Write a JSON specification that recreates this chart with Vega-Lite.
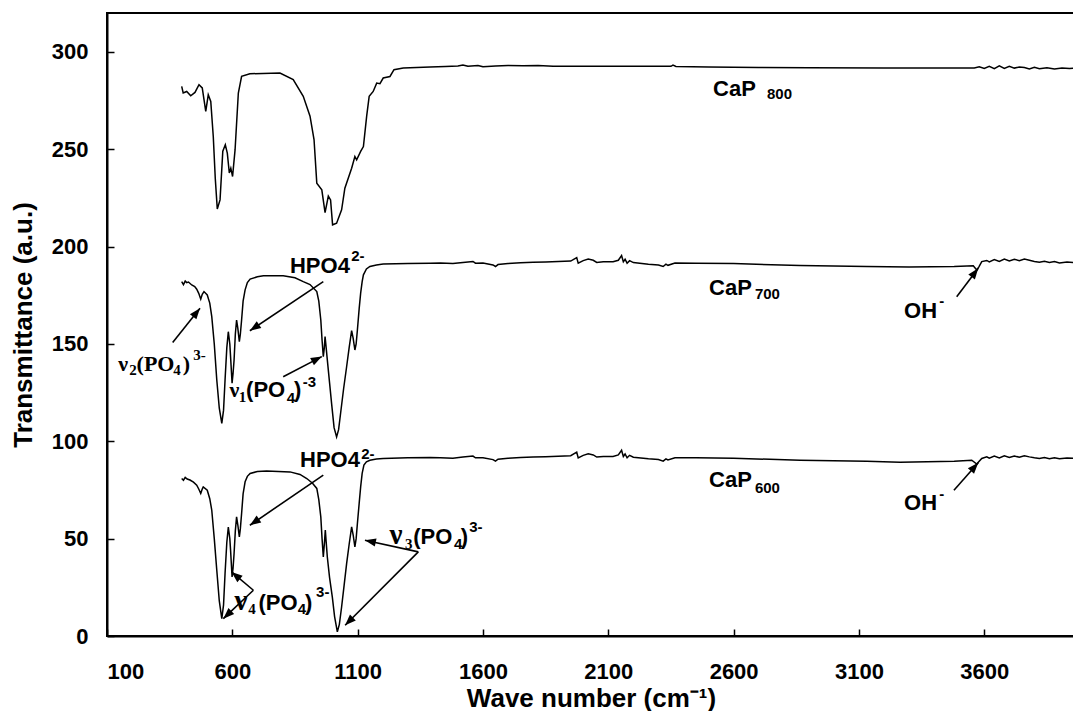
{
  "$schema": "https://vega.github.io/schema/vega-lite/v6.json",
  "width": 968,
  "height": 623,
  "autosize": {"type": "none"},
  "padding": {"left": 107, "top": 13, "right": 0, "bottom": 75},
  "background": "white",
  "config": {
    "view": {"stroke": "black", "strokeWidth": 2},
    "axis": {
      "grid": false,
      "domainColor": "black",
      "domainWidth": 2,
      "tickColor": "black",
      "tickWidth": 1.5,
      "tickSize": -7,
      "labelFont": "Liberation Sans",
      "labelFontWeight": "bold",
      "labelFontSize": 22,
      "labelColor": "black",
      "titleFont": "Liberation Sans",
      "titleFontWeight": "bold",
      "titleFontSize": 26,
      "titleColor": "black"
    }
  },
  "datasets": {
    "curves": [
      {"s":"CaP800","x":398,"y":282.3},{"s":"CaP800","x":404,"y":278.9},{"s":"CaP800","x":418,"y":279.7},{"s":"CaP800","x":434,"y":277.5},{"s":"CaP800","x":451,"y":279.2},{"s":"CaP800","x":467,"y":283.2},{"s":"CaP800","x":480,"y":281.5},{"s":"CaP800","x":494,"y":269.5},{"s":"CaP800","x":504,"y":278},{"s":"CaP800","x":514,"y":274.6},{"s":"CaP800","x":524,"y":256.6},{"s":"CaP800","x":532,"y":235},{"s":"CaP800","x":540,"y":219.3},{"s":"CaP800","x":551,"y":224},{"s":"CaP800","x":562,"y":249},{"s":"CaP800","x":572,"y":252.3},{"s":"CaP800","x":580,"y":248},{"s":"CaP800","x":588,"y":237.8},{"s":"CaP800","x":594,"y":240.3},{"s":"CaP800","x":601,"y":236},{"s":"CaP800","x":611,"y":249.8},{"s":"CaP800","x":624,"y":278.9},{"s":"CaP800","x":637,"y":287.5},{"s":"CaP800","x":670,"y":288.8},{"s":"CaP800","x":790,"y":289.2},{"s":"CaP800","x":843,"y":285.8},{"s":"CaP800","x":883,"y":277.2},{"s":"CaP800","x":910,"y":267},{"s":"CaP800","x":926,"y":255},{"s":"CaP800","x":937,"y":232.6},{"s":"CaP800","x":957,"y":229.2},{"s":"CaP800","x":970,"y":217.5},{"s":"CaP800","x":983,"y":226},{"s":"CaP800","x":992,"y":224},{"s":"CaP800","x":1000,"y":211.2},{"s":"CaP800","x":1016,"y":212},{"s":"CaP800","x":1036,"y":218.9},{"s":"CaP800","x":1049,"y":230},{"s":"CaP800","x":1076,"y":240.3},{"s":"CaP800","x":1089,"y":246.3},{"s":"CaP800","x":1096,"y":244.6},{"s":"CaP800","x":1112,"y":248.9},{"s":"CaP800","x":1123,"y":251.4},{"s":"CaP800","x":1136,"y":267},{"s":"CaP800","x":1146,"y":277.2},{"s":"CaP800","x":1162,"y":279.7},{"s":"CaP800","x":1176,"y":284},{"s":"CaP800","x":1189,"y":283.7},{"s":"CaP800","x":1202,"y":286.6},{"s":"CaP800","x":1229,"y":287.4},{"s":"CaP800","x":1245,"y":290.9},{"s":"CaP800","x":1282,"y":291.8},{"s":"CaP800","x":1389,"y":292.3},{"s":"CaP800","x":1450,"y":292.5},{"s":"CaP800","x":1500,"y":292.8},{"s":"CaP800","x":1520,"y":293.3},{"s":"CaP800","x":1540,"y":292.6},{"s":"CaP800","x":1580,"y":293.0},{"s":"CaP800","x":1600,"y":292.4},{"s":"CaP800","x":1650,"y":292.8},{"s":"CaP800","x":1700,"y":293.0},{"s":"CaP800","x":1760,"y":292.9},{"s":"CaP800","x":1820,"y":293.0},{"s":"CaP800","x":1880,"y":292.7},{"s":"CaP800","x":2000,"y":292.6},{"s":"CaP800","x":2200,"y":292.6},{"s":"CaP800","x":2350,"y":292.6},{"s":"CaP800","x":2358,"y":293.2},{"s":"CaP800","x":2370,"y":292.5},{"s":"CaP800","x":2500,"y":292.2},{"s":"CaP800","x":2700,"y":292.0},{"s":"CaP800","x":2900,"y":291.9},{"s":"CaP800","x":3200,"y":291.8},{"s":"CaP800","x":3500,"y":291.7},{"s":"CaP800","x":3560,"y":291.8},{"s":"CaP800","x":3580,"y":292.4},{"s":"CaP800","x":3600,"y":291.5},{"s":"CaP800","x":3620,"y":292.6},{"s":"CaP800","x":3640,"y":291.4},{"s":"CaP800","x":3660,"y":292.8},{"s":"CaP800","x":3680,"y":291.5},{"s":"CaP800","x":3700,"y":292.6},{"s":"CaP800","x":3720,"y":291.7},{"s":"CaP800","x":3740,"y":292.3},{"s":"CaP800","x":3760,"y":292.0},{"s":"CaP800","x":3780,"y":291.3},{"s":"CaP800","x":3800,"y":292.1},{"s":"CaP800","x":3820,"y":291.4},{"s":"CaP800","x":3850,"y":291.9},{"s":"CaP800","x":3880,"y":291.3},{"s":"CaP800","x":3910,"y":291.8},{"s":"CaP800","x":3940,"y":291.5},{"s":"CaP800","x":3962,"y":291.6},

      {"s":"CaP700","x":398,"y":182},{"s":"CaP700","x":405,"y":180.5},{"s":"CaP700","x":412,"y":182.3},{"s":"CaP700","x":418,"y":181.5},{"s":"CaP700","x":425,"y":181.8},{"s":"CaP700","x":438,"y":180.3},{"s":"CaP700","x":450,"y":179.5},{"s":"CaP700","x":458,"y":178.1},{"s":"CaP700","x":466,"y":176},{"s":"CaP700","x":474,"y":173},{"s":"CaP700","x":480,"y":175.5},{"s":"CaP700","x":487,"y":176.9},{"s":"CaP700","x":500,"y":175.2},{"s":"CaP700","x":510,"y":171},{"s":"CaP700","x":518,"y":164},{"s":"CaP700","x":528,"y":150},{"s":"CaP700","x":538,"y":131.5},{"s":"CaP700","x":548,"y":117},{"s":"CaP700","x":558,"y":109.2},{"s":"CaP700","x":565,"y":116},{"s":"CaP700","x":571,"y":131.5},{"s":"CaP700","x":578,"y":148},{"s":"CaP700","x":584,"y":156.3},{"s":"CaP700","x":590,"y":150},{"s":"CaP700","x":593,"y":143.5},{"s":"CaP700","x":599,"y":129.8},{"s":"CaP700","x":603,"y":135},{"s":"CaP700","x":607,"y":141.8},{"s":"CaP700","x":612,"y":155},{"s":"CaP700","x":617,"y":162.3},{"s":"CaP700","x":622,"y":158},{"s":"CaP700","x":628,"y":151.2},{"s":"CaP700","x":632,"y":155},{"s":"CaP700","x":637,"y":162.3},{"s":"CaP700","x":643,"y":172},{"s":"CaP700","x":651,"y":177.8},{"s":"CaP700","x":660,"y":181.5},{"s":"CaP700","x":671,"y":183.3},{"s":"CaP700","x":700,"y":184.5},{"s":"CaP700","x":724,"y":185},{"s":"CaP700","x":803,"y":185},{"s":"CaP700","x":850,"y":184},{"s":"CaP700","x":883,"y":182},{"s":"CaP700","x":910,"y":180.5},{"s":"CaP700","x":937,"y":176.9},{"s":"CaP700","x":945,"y":172},{"s":"CaP700","x":953,"y":162.3},{"s":"CaP700","x":958,"y":152},{"s":"CaP700","x":963,"y":143.5},{"s":"CaP700","x":967,"y":148},{"s":"CaP700","x":970,"y":153.8},{"s":"CaP700","x":973,"y":150},{"s":"CaP700","x":979,"y":141.8},{"s":"CaP700","x":988,"y":130},{"s":"CaP700","x":996,"y":119.5},{"s":"CaP700","x":1006,"y":107},{"s":"CaP700","x":1016,"y":102.3},{"s":"CaP700","x":1024,"y":106},{"s":"CaP700","x":1032,"y":114.4},{"s":"CaP700","x":1044,"y":127},{"s":"CaP700","x":1056,"y":138.3},{"s":"CaP700","x":1066,"y":148},{"s":"CaP700","x":1076,"y":156.8},{"s":"CaP700","x":1082,"y":153},{"s":"CaP700","x":1089,"y":146.9},{"s":"CaP700","x":1094,"y":150},{"s":"CaP700","x":1099,"y":157.2},{"s":"CaP700","x":1106,"y":168},{"s":"CaP700","x":1112,"y":176.1},{"s":"CaP700","x":1118,"y":182},{"s":"CaP700","x":1123,"y":185.5},{"s":"CaP700","x":1135,"y":188.5},{"s":"CaP700","x":1149,"y":189.8},{"s":"CaP700","x":1175,"y":190.6},{"s":"CaP700","x":1202,"y":191.1},{"s":"CaP700","x":1300,"y":191.3},{"s":"CaP700","x":1389,"y":191.5},{"s":"CaP700","x":1430,"y":191.6},{"s":"CaP700","x":1480,"y":191.3},{"s":"CaP700","x":1520,"y":191.9},{"s":"CaP700","x":1560,"y":192.4},{"s":"CaP700","x":1570,"y":191.5},{"s":"CaP700","x":1600,"y":191.6},{"s":"CaP700","x":1640,"y":190.6},{"s":"CaP700","x":1650,"y":189.8},{"s":"CaP700","x":1660,"y":190.8},{"s":"CaP700","x":1700,"y":191.3},{"s":"CaP700","x":1750,"y":191.7},{"s":"CaP700","x":1800,"y":192.0},{"s":"CaP700","x":1850,"y":192.1},{"s":"CaP700","x":1900,"y":192.3},{"s":"CaP700","x":1950,"y":192.6},{"s":"CaP700","x":1974,"y":194.4},{"s":"CaP700","x":1980,"y":191.5},{"s":"CaP700","x":2000,"y":192.8},{"s":"CaP700","x":2020,"y":193.6},{"s":"CaP700","x":2040,"y":193.0},{"s":"CaP700","x":2054,"y":191.9},{"s":"CaP700","x":2080,"y":192.2},{"s":"CaP700","x":2119,"y":192.2},{"s":"CaP700","x":2140,"y":193.0},{"s":"CaP700","x":2153,"y":195.4},{"s":"CaP700","x":2160,"y":192.2},{"s":"CaP700","x":2167,"y":193.5},{"s":"CaP700","x":2175,"y":191.5},{"s":"CaP700","x":2185,"y":192.8},{"s":"CaP700","x":2200,"y":191.8},{"s":"CaP700","x":2260,"y":191.0},{"s":"CaP700","x":2300,"y":190.6},{"s":"CaP700","x":2319,"y":189.8},{"s":"CaP700","x":2330,"y":191.0},{"s":"CaP700","x":2338,"y":190.4},{"s":"CaP700","x":2366,"y":191.6},{"s":"CaP700","x":2450,"y":191.5},{"s":"CaP700","x":2600,"y":191.3},{"s":"CaP700","x":2865,"y":190.3},{"s":"CaP700","x":3131,"y":189.8},{"s":"CaP700","x":3300,"y":189.5},{"s":"CaP700","x":3480,"y":189.8},{"s":"CaP700","x":3556,"y":190.2},{"s":"CaP700","x":3570,"y":188},{"s":"CaP700","x":3578,"y":189.5},{"s":"CaP700","x":3590,"y":192.3},{"s":"CaP700","x":3610,"y":192.9},{"s":"CaP700","x":3620,"y":192.2},{"s":"CaP700","x":3640,"y":193.4},{"s":"CaP700","x":3660,"y":192.4},{"s":"CaP700","x":3680,"y":193.6},{"s":"CaP700","x":3700,"y":192.6},{"s":"CaP700","x":3720,"y":193.5},{"s":"CaP700","x":3740,"y":192.8},{"s":"CaP700","x":3760,"y":193.6},{"s":"CaP700","x":3780,"y":193.0},{"s":"CaP700","x":3800,"y":192.4},{"s":"CaP700","x":3820,"y":192.0},{"s":"CaP700","x":3840,"y":192.5},{"s":"CaP700","x":3860,"y":191.9},{"s":"CaP700","x":3880,"y":192.3},{"s":"CaP700","x":3900,"y":191.6},{"s":"CaP700","x":3930,"y":192.1},{"s":"CaP700","x":3962,"y":191.7},

      {"s":"CaP600","x":398,"y":80.9},{"s":"CaP600","x":405,"y":80},{"s":"CaP600","x":412,"y":81.5},{"s":"CaP600","x":420,"y":80.6},{"s":"CaP600","x":431,"y":80.1},{"s":"CaP600","x":445,"y":79},{"s":"CaP600","x":458,"y":77.5},{"s":"CaP600","x":466,"y":75.5},{"s":"CaP600","x":474,"y":73.2},{"s":"CaP600","x":480,"y":75.5},{"s":"CaP600","x":484,"y":76.6},{"s":"CaP600","x":500,"y":74.9},{"s":"CaP600","x":510,"y":70.5},{"s":"CaP600","x":518,"y":64.6},{"s":"CaP600","x":528,"y":50},{"s":"CaP600","x":538,"y":33.8},{"s":"CaP600","x":548,"y":18},{"s":"CaP600","x":558,"y":8.9},{"s":"CaP600","x":565,"y":16},{"s":"CaP600","x":571,"y":32.1},{"s":"CaP600","x":578,"y":48},{"s":"CaP600","x":584,"y":56},{"s":"CaP600","x":590,"y":50},{"s":"CaP600","x":593,"y":44.1},{"s":"CaP600","x":599,"y":30.3},{"s":"CaP600","x":603,"y":35},{"s":"CaP600","x":607,"y":42.4},{"s":"CaP600","x":612,"y":54},{"s":"CaP600","x":617,"y":61.2},{"s":"CaP600","x":622,"y":57},{"s":"CaP600","x":628,"y":50.9},{"s":"CaP600","x":632,"y":55},{"s":"CaP600","x":637,"y":62.9},{"s":"CaP600","x":643,"y":73},{"s":"CaP600","x":651,"y":79.2},{"s":"CaP600","x":660,"y":82},{"s":"CaP600","x":671,"y":83.5},{"s":"CaP600","x":700,"y":84.5},{"s":"CaP600","x":737,"y":84.8},{"s":"CaP600","x":830,"y":84.3},{"s":"CaP600","x":870,"y":83},{"s":"CaP600","x":897,"y":80.9},{"s":"CaP600","x":920,"y":78.5},{"s":"CaP600","x":937,"y":75.8},{"s":"CaP600","x":945,"y":70},{"s":"CaP600","x":953,"y":61.2},{"s":"CaP600","x":958,"y":50},{"s":"CaP600","x":963,"y":40.6},{"s":"CaP600","x":967,"y":47},{"s":"CaP600","x":971,"y":54.4},{"s":"CaP600","x":974,"y":49},{"s":"CaP600","x":979,"y":40.6},{"s":"CaP600","x":988,"y":30},{"s":"CaP600","x":999,"y":20},{"s":"CaP600","x":1008,"y":10},{"s":"CaP600","x":1019,"y":2.1},{"s":"CaP600","x":1027,"y":6},{"s":"CaP600","x":1036,"y":14.9},{"s":"CaP600","x":1046,"y":26},{"s":"CaP600","x":1056,"y":37.2},{"s":"CaP600","x":1066,"y":47},{"s":"CaP600","x":1076,"y":56},{"s":"CaP600","x":1082,"y":52},{"s":"CaP600","x":1089,"y":45.8},{"s":"CaP600","x":1094,"y":50},{"s":"CaP600","x":1099,"y":57.8},{"s":"CaP600","x":1106,"y":68},{"s":"CaP600","x":1112,"y":76.6},{"s":"CaP600","x":1118,"y":83.5},{"s":"CaP600","x":1125,"y":87.8},{"s":"CaP600","x":1135,"y":89.5},{"s":"CaP600","x":1149,"y":90.3},{"s":"CaP600","x":1175,"y":90.9},{"s":"CaP600","x":1202,"y":91.2},{"s":"CaP600","x":1300,"y":91.5},{"s":"CaP600","x":1389,"y":91.7},{"s":"CaP600","x":1430,"y":91.6},{"s":"CaP600","x":1480,"y":91.3},{"s":"CaP600","x":1520,"y":91.9},{"s":"CaP600","x":1560,"y":92.4},{"s":"CaP600","x":1570,"y":91.5},{"s":"CaP600","x":1600,"y":91.6},{"s":"CaP600","x":1640,"y":90.6},{"s":"CaP600","x":1650,"y":89.8},{"s":"CaP600","x":1660,"y":90.8},{"s":"CaP600","x":1700,"y":91.3},{"s":"CaP600","x":1750,"y":91.7},{"s":"CaP600","x":1800,"y":92.0},{"s":"CaP600","x":1850,"y":92.1},{"s":"CaP600","x":1900,"y":92.3},{"s":"CaP600","x":1950,"y":92.6},{"s":"CaP600","x":1974,"y":94.4},{"s":"CaP600","x":1980,"y":91.5},{"s":"CaP600","x":2000,"y":92.8},{"s":"CaP600","x":2020,"y":93.6},{"s":"CaP600","x":2040,"y":93.0},{"s":"CaP600","x":2054,"y":91.9},{"s":"CaP600","x":2080,"y":92.2},{"s":"CaP600","x":2119,"y":92.2},{"s":"CaP600","x":2140,"y":93.0},{"s":"CaP600","x":2153,"y":95.4},{"s":"CaP600","x":2160,"y":92.2},{"s":"CaP600","x":2167,"y":93.5},{"s":"CaP600","x":2175,"y":91.5},{"s":"CaP600","x":2185,"y":92.8},{"s":"CaP600","x":2200,"y":91.8},{"s":"CaP600","x":2260,"y":91.0},{"s":"CaP600","x":2300,"y":90.6},{"s":"CaP600","x":2319,"y":89.8},{"s":"CaP600","x":2330,"y":91.0},{"s":"CaP600","x":2338,"y":90.4},{"s":"CaP600","x":2366,"y":91.6},{"s":"CaP600","x":2450,"y":91.5},{"s":"CaP600","x":2600,"y":91.3},{"s":"CaP600","x":2865,"y":90.3},{"s":"CaP600","x":3131,"y":89.8},{"s":"CaP600","x":3264,"y":89.2},{"s":"CaP600","x":3480,"y":89.8},{"s":"CaP600","x":3550,"y":90.3},{"s":"CaP600","x":3570,"y":88.3},{"s":"CaP600","x":3578,"y":89.5},{"s":"CaP600","x":3590,"y":91.2},{"s":"CaP600","x":3610,"y":92.0},{"s":"CaP600","x":3620,"y":91.3},{"s":"CaP600","x":3640,"y":92.4},{"s":"CaP600","x":3660,"y":91.5},{"s":"CaP600","x":3680,"y":92.6},{"s":"CaP600","x":3700,"y":91.7},{"s":"CaP600","x":3720,"y":92.5},{"s":"CaP600","x":3740,"y":91.8},{"s":"CaP600","x":3760,"y":92.6},{"s":"CaP600","x":3780,"y":92.0},{"s":"CaP600","x":3800,"y":91.5},{"s":"CaP600","x":3820,"y":91.2},{"s":"CaP600","x":3840,"y":91.7},{"s":"CaP600","x":3860,"y":91.1},{"s":"CaP600","x":3880,"y":91.5},{"s":"CaP600","x":3900,"y":91.0},{"s":"CaP600","x":3930,"y":91.4},{"s":"CaP600","x":3962,"y":91.2}
    ],
    "arrows": [
      {"id":"OH700","x0":3490,"y0":174.3,"x":3576,"y":188.9},
      {"id":"OH600","x0":3479,"y0":74.9,"x":3576,"y":89.0},
      {"id":"HPO700","x0":963,"y0":182.0,"x":670,"y":156.8},
      {"id":"HPO600","x0":963,"y0":82.6,"x":670,"y":56.9},
      {"id":"nu2","x0":362,"y0":150.7,"x":471,"y":168.4},
      {"id":"nu1","x0":803,"y0":133.2,"x":957,"y":143.5},
      {"id":"nu3a","x0":1342,"y0":43.2,"x":1129,"y":49.2},
      {"id":"nu3b","x0":1342,"y0":43.2,"x":1050,"y":5.5},
      {"id":"nu4a","x0":684,"y0":23.5,"x":597,"y":32.9},
      {"id":"nu4b","x0":684,"y0":23.5,"x":564,"y":8.9}
    ],
    "labels": [
      {"t":"CaP","x":2518,"y":277.2,"k":"S"},{"t":"800","x":2733,"y":276.0,"k":"s"},
      {"t":"CaP","x":2502,"y":175.2,"k":"S"},{"t":"700","x":2685,"y":173.1,"k":"s"},
      {"t":"CaP","x":2502,"y":76.6,"k":"S"},{"t":"600","x":2685,"y":73.7,"k":"s"},
      {"t":"OH","x":3280,"y":163.4,"k":"S"},{"t":"-","x":3420,"y":169.5,"k":"s"},
      {"t":"OH","x":3280,"y":64.6,"k":"S"},{"t":"-","x":3420,"y":70.3,"k":"s"},
      {"t":"HPO4","x":830,"y":186.4,"k":"S"},{"t":"2-","x":1074,"y":192.8,"k":"s"},
      {"t":"HPO4","x":870,"y":86.9,"k":"S"},{"t":"2-","x":1114,"y":90.7,"k":"s"},
      {"t":"ν","x":145,"y":136.3,"k":"G"},{"t":"2","x":189,"y":134.1,"k":"g"},{"t":"(PO","x":218,"y":136.3,"k":"G"},{"t":"4","x":364,"y":134.1,"k":"g"},{"t":")","x":402,"y":136.3,"k":"G"},{"t":"3-","x":444,"y":141.8,"k":"g"},
      {"t":"ν","x":589,"y":122.9,"k":"G"},{"t":"1","x":626,"y":120.3,"k":"g"},{"t":"(PO","x":655,"y":122.9,"k":"S"},{"t":"4","x":817,"y":119.5,"k":"s"},{"t":")","x":846,"y":122.9,"k":"S"},{"t":"-3","x":881,"y":128,"k":"s"},
      {"t":"ν","x":1227,"y":47.5,"k":"V"},{"t":"3","x":1289,"y":44.9,"k":"g"},{"t":"(PO","x":1322,"y":47.5,"k":"S"},{"t":"4","x":1484,"y":44.9,"k":"s"},{"t":")","x":1511,"y":47.5,"k":"S"},{"t":"3-","x":1545,"y":53.5,"k":"s"},
      {"t":"ν","x":609,"y":13.2,"k":"V"},{"t":"4","x":664,"y":11.2,"k":"g"},{"t":"(PO","x":704,"y":13.2,"k":"S"},{"t":"4","x":861,"y":11.2,"k":"s"},{"t":")","x":890,"y":13.2,"k":"S"},{"t":"3-","x":934,"y":20.1,"k":"s"}
    ]
  },
  "encoding": {
    "x": {
      "field": "x", "type": "quantitative",
      "scale": {"domain": [100, 3962], "nice": false, "zero": false},
      "axis": {"values": [100, 600, 1100, 1600, 2100, 2600, 3100, 3600], "format": "d", "title": "Wave number (cm⁻¹)", "labelPadding": 32, "titleBaseline": "alphabetic", "titleY": 70}
    },
    "y": {
      "field": "y", "type": "quantitative",
      "scale": {"domain": [0, 320], "nice": false, "zero": false},
      "axis": {"values": [0, 50, 100, 150, 200, 250, 300], "format": "d", "title": "Transmittance (a.u.)", "labelPadding": 26, "titleBaseline": "alphabetic", "titleX": -76}
    }
  },
  "layer": [
    {
      "data": {"name": "curves"},
      "mark": {"type": "line", "color": "black", "strokeWidth": 1.5, "clip": true},
      "encoding": {"detail": {"field": "s", "type": "nominal"}}
    },
    {
      "data": {"name": "arrows"},
      "mark": {"type": "rule", "color": "black", "strokeWidth": 1.6},
      "encoding": {
        "x2": {"field": "x0"},
        "y2": {"field": "y0"}
      }
    },
    {
      "data": {"name": "arrows"},
      "transform": [
        {"calculate": "atan2(-(datum.y - datum.y0) * 1.9469, (datum.x - datum.x0) * 0.25065) * 180 / PI", "as": "ang"}
      ],
      "mark": {"type": "point", "shape": "M0,0L-2,-0.75L-2,0.75Z", "filled": true, "color": "black", "size": 121, "opacity": 1},
      "encoding": {
        "angle": {"field": "ang", "type": "quantitative", "scale": null}
      }
    },
    {
      "data": {"name": "labels"},
      "transform": [{"filter": "datum.k === 'S'"}],
      "mark": {"type": "text", "align": "left", "baseline": "alphabetic", "font": "Liberation Sans", "fontWeight": "bold", "fontSize": 22, "color": "black"},
      "encoding": {"text": {"field": "t"}}
    },
    {
      "data": {"name": "labels"},
      "transform": [{"filter": "datum.k === 's'"}],
      "mark": {"type": "text", "align": "left", "baseline": "alphabetic", "font": "Liberation Sans", "fontWeight": "bold", "fontSize": 15, "color": "black"},
      "encoding": {"text": {"field": "t"}}
    },
    {
      "data": {"name": "labels"},
      "transform": [{"filter": "datum.k === 'G'"}],
      "mark": {"type": "text", "align": "left", "baseline": "alphabetic", "font": "Liberation Serif", "fontWeight": "bold", "fontSize": 22, "color": "black"},
      "encoding": {"text": {"field": "t"}}
    },
    {
      "data": {"name": "labels"},
      "transform": [{"filter": "datum.k === 'V'"}],
      "mark": {"type": "text", "align": "left", "baseline": "alphabetic", "font": "Liberation Serif", "fontWeight": "bold", "fontSize": 29, "color": "black"},
      "encoding": {"text": {"field": "t"}}
    },
    {
      "data": {"name": "labels"},
      "transform": [{"filter": "datum.k === 'g'"}],
      "mark": {"type": "text", "align": "left", "baseline": "alphabetic", "font": "Liberation Serif", "fontWeight": "bold", "fontSize": 15, "color": "black"},
      "encoding": {"text": {"field": "t"}}
    }
  ]
}
